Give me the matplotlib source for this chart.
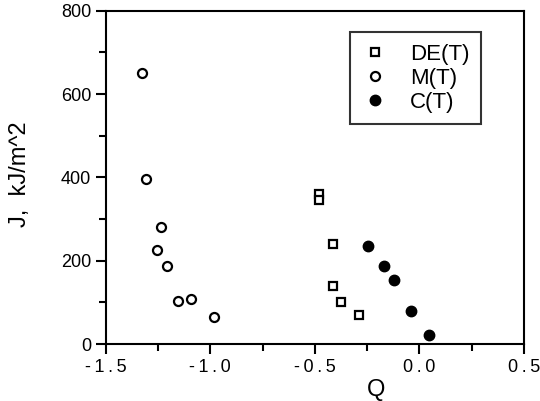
import matplotlib.pyplot as plt
from matplotlib.ticker import MultipleLocator

plt.rcParams['font.family'] = ['Liberation Sans', 'DejaVu Sans']

# DE(T) - open squares
de_q = [-0.48, -0.48, -0.414, -0.414, -0.376, -0.289]
de_j = [360, 345, 240, 139, 101, 70]

# M(T) - open circles
m_q = [-1.328, -1.31, -1.237, -1.256, -1.208, -1.156, -1.093, -0.983]
m_j = [651, 397, 281, 226, 187, 103, 108, 65]

# C(T) - filled circles
c_q = [-0.246, -0.17, -0.122, -0.04, 0.044]
c_j = [235, 187, 153, 79, 22]

x_ticks = [-1.5, -1.0, -0.5, 0.0, 0.5]
x_ticklabels = ['-\u20091\u2009.\u20095', '-\u20091\u2009.\u20090', '-\u20090\u2009.\u20095',
                '0\u2009.\u20090', '0\u2009.\u20095']

fig = plt.figure(figsize=(5.4, 4.01), dpi=100)
ax = fig.add_axes([0.196, 0.142, 0.774, 0.831])

ax.plot(de_q, de_j, ls='none', marker='s', ms=6, mfc='white', mec='black',
        mew=1.6, label='DE(T)')
ax.plot(m_q, m_j, ls='none', marker='o', ms=6.5, mfc='white', mec='black',
        mew=1.6, label='M(T)')
ax.plot(c_q, c_j, ls='none', marker='o', ms=7.5, mfc='black', mec='black',
        label='C(T)')

ax.set_xlim(-1.5, 0.5)
ax.set_ylim(0, 800)
ax.set_xticks(x_ticks)
ax.set_xticklabels(x_ticklabels)
ax.xaxis.set_minor_locator(MultipleLocator(0.25))
ax.yaxis.set_major_locator(MultipleLocator(200))
ax.yaxis.set_minor_locator(MultipleLocator(100))

ax.tick_params(which='both', direction='out', width=1.5, labelsize=13)
ax.tick_params(which='major', length=7)
ax.tick_params(which='minor', length=5)
for s in ax.spines.values():
    s.set_linewidth(1.5)

ax.set_xlabel('Q', fontsize=17)
ax.xaxis.set_label_coords(0.646, -0.105)
ax.set_ylabel('J,  kJ/m^2', fontsize=17)
ax.yaxis.set_label_coords(-0.178, 0.51)

leg = ax.legend(loc='upper left', bbox_to_anchor=(0.585, 0.935), fontsize=16,
                frameon=True, fancybox=False, edgecolor='black',
                handletextpad=1.0, borderpad=0.5, labelspacing=0.15,
                handlelength=1.2, borderaxespad=0)
leg.get_frame().set_linewidth(1.5)

fig.savefig('out.png', dpi=100)
